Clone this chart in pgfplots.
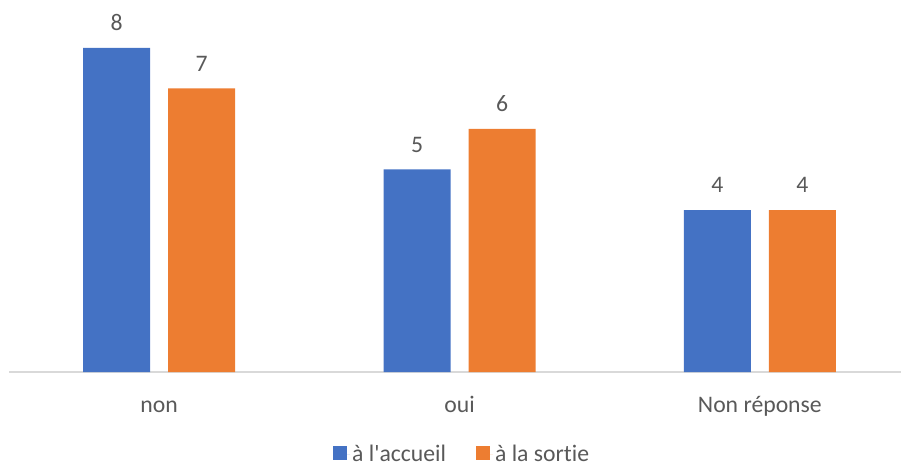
\documentclass[border=0pt]{standalone}
\usepackage{fontspec}
\setmainfont{Carlito}[Ligatures=ResetAll, RawFeature={-liga}]
\usepackage{pgfplots}
\pgfplotsset{compat=1.18}
\definecolor{cblue}{HTML}{4472C4}
\definecolor{corange}{HTML}{ED7D31}
\definecolor{ctext}{HTML}{595959}
\definecolor{caxis}{HTML}{D9D9D9}
\begin{document}
\begin{tikzpicture}
\begin{axis}[
  at={(9pt,94pt)}, anchor=south west,
  scale only axis, width=892pt, height=364.5pt,
  ybar=18pt, bar width=67pt,
  xmin=-0.5, xmax=2.47, ymin=0, ymax=9,
  axis y line=none, axis x line*=bottom,
  x axis line style={-, draw=caxis, line width=1.2pt},
  xtick={0,1,2}, xticklabels={non,oui,Non réponse},
  major tick length=0pt,
  xticklabel style={font=\fontsize{23.7}{28}\selectfont, text=ctext, anchor=base, yshift=-40pt},
  nodes near coords,
  every node near coord/.append style={font=\fontsize{23.7}{28}\selectfont, text=ctext, anchor=base, yshift=17pt},
  /pgf/number format/assume math mode=true,
  legend columns=2,
  legend style={draw=none, fill=none, at={(0.508,-0.262)}, anchor=south,
    font=\fontsize{23.7}{28}\selectfont, text=ctext,
    /tikz/every even column/.append style={column sep=28pt}},
  legend image code/.code={\fill[#1] (0pt,-6pt) rectangle (14pt,8pt); \path (0pt,0pt) -- (17pt,0pt);},
]
\addplot[fill=cblue, draw=none] coordinates {(0,8) (1,5) (2,4)};
\addplot[fill=corange, draw=none] coordinates {(0,7) (1,6) (2,4)};
\legend{à l\textquotesingle accueil, à la sortie}
\end{axis}
\pgfresetboundingbox
\path (0,0) rectangle (901pt,466pt);
\end{tikzpicture}
\end{document}
